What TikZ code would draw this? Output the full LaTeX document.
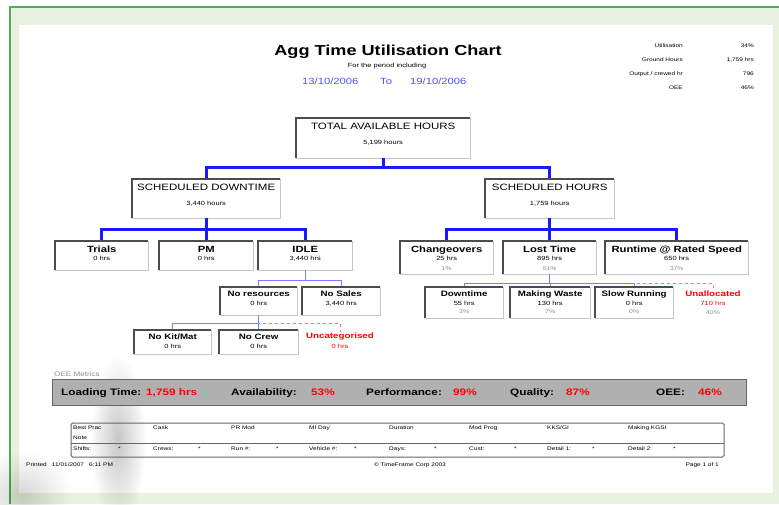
\documentclass[tikz,border=0pt]{standalone}
\usepackage{fontspec}
\setmainfont{Liberation Sans}[FakeStretch=1.25]
\usetikzlibrary{fadings}
\tikzfading[name=softspot,inner color=transparent!0,outer color=transparent!100]

\begin{document}
\begin{tikzpicture}[x=1pt,y=-1pt,
        every node/.style={inner sep=0pt},
        box/.style={draw=black!22,fill=white,anchor=north west},
        edge/.style={draw=black!70,line width=1.8pt},
        trunk/.style={draw=linkblue,line width=2.6pt},
        twig/.style={draw=paleblue,line width=1.1pt},
        redlink/.style={draw=alertred!55,line width=0.6pt,dashed},
        heading/.style={font=\fontsize{14.5}{16}\selectfont\bfseries},
        lvone/.style={font=\fontsize{9.2}{11}\selectfont,anchor=base},
        lvtwo/.style={font=\fontsize{9}{11}\selectfont\bfseries,anchor=base},
        lvthree/.style={font=\fontsize{7.8}{9}\selectfont\bfseries,anchor=base},
        val/.style={font=\fontsize{6}{7}\selectfont,anchor=base},
        pct/.style={font=\fontsize{5.5}{7}\selectfont,text=black!45,anchor=base},
        metric/.style={font=\fontsize{9.4}{11}\selectfont\bfseries,anchor=base west},
        small/.style={font=\fontsize{5.2}{6}\selectfont}]
    \definecolor{linkblue}{RGB}{25,25,255}
    \definecolor{paleblue}{RGB}{125,125,255}
    \definecolor{dateblue}{RGB}{80,80,255}
    \definecolor{alertred}{RGB}{255,0,0}
    \definecolor{pagegreen}{RGB}{233,242,223}
    \definecolor{framegreen}{RGB}{80,176,80}
    \definecolor{bargrey}{RGB}{176,176,176}

    \useasboundingbox (0,0) rectangle (779,504);
    \fill [white] (0,0) rectangle (779,504);
    \fill [pagegreen] (10,7) rectangle (779,504);
    \draw [framegreen,line width=2pt] (10,504) -- (10,7) -- (779,7);
    \fill [white] (19,25) rectangle (773,493);
    % smudge in the photo
    \fill [black,fill opacity=0.22,path fading=softspot] (118,440) ellipse (28 and 85);
    \fill [black,fill opacity=0.16,path fading=softspot] (22,495) ellipse (50 and 45);

    % heading
    \node [heading,anchor=base] (title) at (388,55) {Agg Time Utilisation Chart};
    \node [small,font=\fontsize{6}{7}\selectfont,anchor=base] (period) at (387,67) {For the period including};
    \node [font=\fontsize{9}{11}\selectfont,text=dateblue,anchor=base west] (from) at (302,84) {13/10/2006};
    \node [font=\fontsize{9}{11}\selectfont,text=dateblue,anchor=base west] (to) at (380,84) {To};
    \node [font=\fontsize{9}{11}\selectfont,text=dateblue,anchor=base west] (till) at (410,84) {19/10/2006};
    \foreach \y/\l/\v in {47/Utilisation/34\%,61/Ground Hours/{1,759 hrs},75/{Output / crewed hr}/796,89/OEE/46\%} {
        \node [small,anchor=base east] at (683,\y) {\l};
        \node [small,anchor=base east] at (754,\y) {\v};
    }

    % boxes
    \foreach \n/\x/\y/\w/\h in {total/296/118/174/40,sd/132/179/148/39,sh/485/179/129/39,
            trials/55/241/93/29,pm/159/241/94/29,idle/258/241/94/29,
            chg/400/241/93/33,lost/503/241/93/33,run/605/241/143/33,
            nores/220/287/77/28,nosales/302/287/78/28,
            down/425/287/78/31,waste/510/287/80/31,slow/595/287/78/31,
            nokit/134/330/77/24,nocrew/219/330/79/24} {
        \node [box,minimum width=\w pt,minimum height=\h pt] (\n) at (\x,\y) {};
    }
    \node [lvthree,text=alertred] (uncat) at (340,338) {Uncategorised};
    \node [val,text=alertred] at (340,348) {0 hrs};
    \node [lvthree,text=alertred] (unalloc) at (713,296) {Unallocated};
    \node [val,text=alertred] at (713,305) {710 hrs};
    \node [pct] at (713,314) {40\%};

    % connectors
    \draw [redlink] (nores.south) -- ++(0,8) -| (uncat.north);
    \draw [redlink] (lost.south) -- ++(0,9) -| (unalloc.north);
    \draw [trunk] (total.south) -- ++(0,9) -| (sd.north);
    \draw [trunk] (total.south) -- ++(0,9) -| (sh.north);
    \foreach \c in {trials,pm,idle} {
        \draw [trunk] (sd.south) -- ++(0,11) -| (\c.north);
    }
    \foreach \c in {chg,lost,run} {
        \draw [trunk] (sh.south) -- ++(0,11) -| (\c.north);
    }
    \foreach \c in {nores,nosales} {
        \draw [twig] (idle.south) -- ++(0,10) -| (\c.north);
    }
    \foreach \c in {nokit,nocrew} {
        \draw [twig] (nores.south) -- ++(0,8) -| (\c.north);
    }
    \foreach \c in {down,waste,slow} {
        \draw [twig] (lost.south) -- ++(0,9) -| (\c.north);
    }
    \foreach \n in {total,sd,sh,trials,pm,idle,chg,lost,run,nores,nosales,down,waste,slow,nokit,nocrew} {
        \draw [edge] (\n.south west) -- (\n.north west) -- (\n.north east);
    }

    % box texts
    \foreach \n/\t/\v in {total/TOTAL AVAILABLE HOURS/{5,199 hours},sd/SCHEDULED DOWNTIME/{3,440 hours},sh/SCHEDULED HOURS/{1,759 hours}} {
        \node [lvone] at ([yshift=-11pt]\n.north) {\t};
        \node [val] at ([yshift=-26pt]\n.north) {\v};
    }
    \foreach \n/\t/\v/\p in {trials/Trials/{0 hrs}/{},pm/PM/{0 hrs}/{},idle/IDLE/{3,440 hrs}/{},
            chg/Changeovers/{25 hrs}/1\%,lost/Lost Time/{895 hrs}/51\%,run/Runtime @ Rated Speed/{650 hrs}/37\%} {
        \node [lvtwo] at ([yshift=-11.5pt]\n.north) {\t};
        \node [val] at ([yshift=-19.5pt]\n.north) {\v};
        \node [pct] at ([yshift=-29pt]\n.north) {\p};
    }
    \foreach \n/\t/\v/\p in {nores/No resources/{0 hrs}/{},nosales/No Sales/{3,440 hrs}/{},
            down/Downtime/{55 hrs}/3\%,waste/Making Waste/{130 hrs}/7\%,slow/Slow Running/{0 hrs}/0\%,
            nokit/{No Kit/Mat}/{0 hrs}/{},nocrew/No Crew/{0 hrs}/{}} {
        \node [lvthree] at ([yshift=-9.5pt]\n.north) {\t};
        \node [val] at ([yshift=-18.5pt]\n.north) {\v};
        \node [pct] at ([yshift=-26pt]\n.north) {\p};
    }

    % OEE metrics
    \node [small,font=\fontsize{6.5}{8}\selectfont,text=black!45,anchor=base west] (oeelabel) at (54,376) {OEE Metrics};
    \node [draw=black!60,fill=bargrey,line width=1pt,minimum width=694pt,minimum height=26pt,anchor=north west] (oee) at (52,379) {};
    \foreach \x/\l/\vx/\v in {61/Loading Time:/146/{1,759 hrs},231/Availability:/311/53\%,
            366/Performance:/453/99\%,510/Quality:/566/87\%,656/OEE:/698/46\%} {
        \node [metric] at (\x,395) {\l};
        \node [metric,text=alertred] at (\vx,395) {\v};
    }

    % details table
    \draw [black!60,line width=1pt,rounded corners=1.5pt] (71,423) rectangle (724,457);
    \draw [black!60,line width=1pt] (71,443) -- (724,443);
    \foreach \x/\a/\b in {73/Best Prac/Shifts:,153/Cask/Crews:,231/PR Mod/Run \#:,309/MI Day/Vehicle \#:,
            389/Duration/Days:,469/Mod Prog/Cust:,547/{KKS/GI}/Detail 1:,628/Making KGSI/Detail 2:} {
        \node [small,anchor=base west] at (\x,429) {\a};
        \node [small,anchor=base west] at (\x,450) {\b};
        \node [small,anchor=base west] at (\x+45,450) {*};
    }
    \node [small,anchor=base west] at (73,439) {Note};

    % footer
    \node [small,anchor=base west] (printed) at (26,466) {Printed\quad 11/01/2007\quad 6:11 PM};
    \node [small,anchor=base] (copy) at (410,466) {\copyright{} TimeFrame Corp 2003};
    \node [small,anchor=base east] (page) at (719,466) {Page 1 of 1};
\end{tikzpicture}
\end{document}
